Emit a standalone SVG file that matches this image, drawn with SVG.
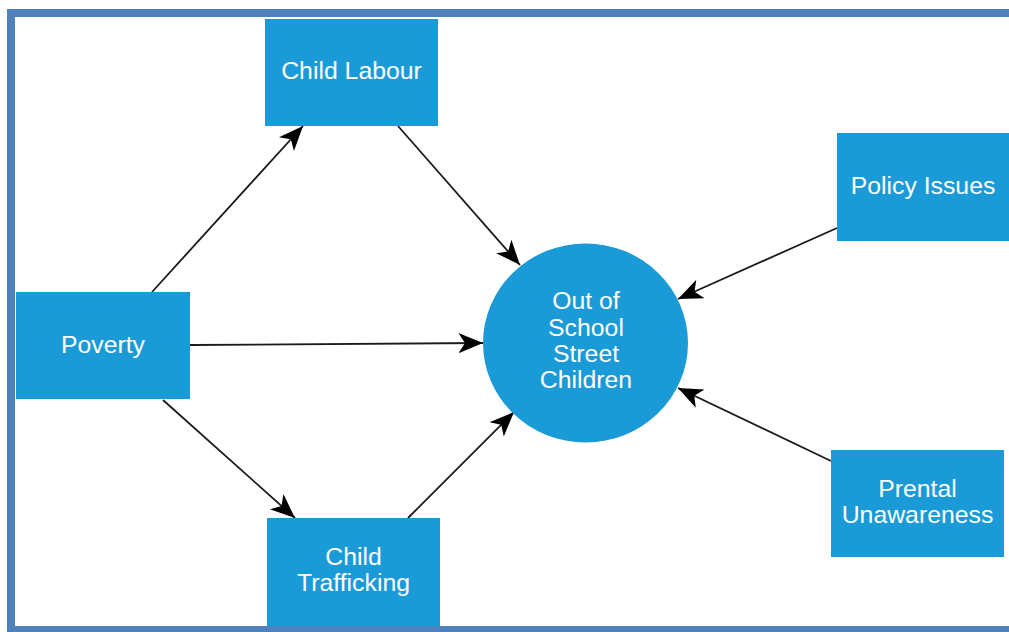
<svg xmlns="http://www.w3.org/2000/svg" width="1009" height="632" viewBox="0 0 1009 632">
<style>
.node{fill:#1a9ad6;}
.lbl{fill:#ffffff;font-family:"Liberation Sans",Arial,sans-serif;font-size:24.8px;text-anchor:middle;}
.edge{stroke:#1a1a1a;stroke-width:1.8;fill:none;marker-end:url(#arr);}
</style>
<defs>
<marker id="arr" markerUnits="userSpaceOnUse" markerWidth="26" markerHeight="26" viewBox="0 0 18 14" refX="17" refY="7" orient="auto">
<path d="M0,0 L17,7 L0,14 L4.5,7 Z" fill="#000"/>
</marker>
</defs>
<rect x="0" y="0" width="1009" height="632" fill="#ffffff"/>
<rect x="11" y="13" width="1010" height="617" fill="none" stroke="#4f81bd" stroke-width="8"/>
<g id="connectors">
<line class="edge" x1="152" y1="292" x2="303" y2="126"/>
<line class="edge" x1="398" y1="126" x2="520" y2="265"/>
<line class="edge" x1="190" y1="345" x2="483" y2="343"/>
<line class="edge" x1="163" y1="400" x2="295" y2="518"/>
<line class="edge" x1="408" y1="518" x2="514" y2="412"/>
<line class="edge" x1="837" y1="228" x2="678" y2="299"/>
<line class="edge" x1="831" y1="461" x2="678" y2="388"/>
</g>
<g id="child-labour">
<rect class="node" x="265" y="19" width="173" height="107"/>
<text class="lbl" x="351.5" y="79">Child Labour</text>
</g>
<g id="poverty">
<rect class="node" x="16" y="292" width="174" height="107"/>
<text class="lbl" x="103" y="353">Poverty</text>
</g>
<g id="child-trafficking">
<rect class="node" x="267" y="518" width="173" height="108"/>
<text class="lbl" x="353.5" y="565">Child</text>
<text class="lbl" x="353.5" y="591">Trafficking</text>
</g>
<g id="policy-issues">
<rect class="node" x="837" y="133" width="180" height="108"/>
<text class="lbl" x="923" y="194">Policy Issues</text>
</g>
<g id="prental-unawareness">
<rect class="node" x="831" y="450" width="173" height="107"/>
<text class="lbl" x="917.5" y="497">Prental</text>
<text class="lbl" x="917.5" y="523">Unawareness</text>
</g>
<g id="out-of-school">
<ellipse class="node" cx="585.5" cy="343" rx="102.5" ry="99.5"/>
<text class="lbl" x="586" y="309">Out of</text>
<text class="lbl" x="586" y="335.5">School</text>
<text class="lbl" x="586" y="362">Street</text>
<text class="lbl" x="586" y="388">Children</text>
</g>
</svg>
